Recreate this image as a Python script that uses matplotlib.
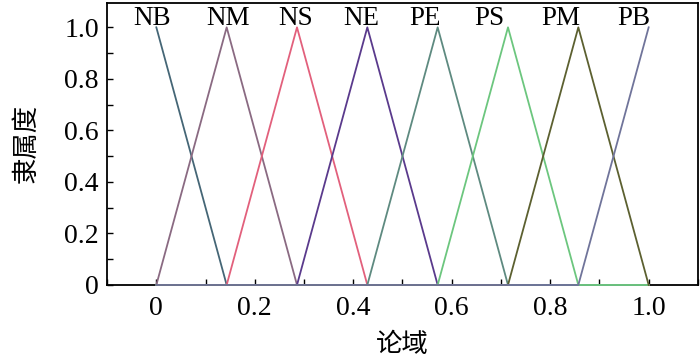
import numpy as np
import matplotlib
matplotlib.use("Agg")
import matplotlib.pyplot as plt
from matplotlib.ticker import MultipleLocator

# ---------- DADOS ----------------
labels = ["NB", "NM", "NS", "NE", "PE", "PS", "PM", "PB"]
peaks = [0, 1/7, 2/7, 3/7, 4/7, 5/7, 6/7, 1]
label_x = [-0.009, 0.146, 0.282, 0.416, 0.546, 0.676, 0.822, 0.970]
cores = ["#456676", "#8a6a82", "#e2607c", "#5a3a8c", "#5e8a80",
         "#6cc67e", "#5c6030", "#70749a"]

xs = np.array([0, 1/7, 2/7, 3/7, 4/7, 5/7, 6/7, 1])

plt.rcParams.update({"font.family": ["Liberation Serif", "DejaVu Serif"],
                     "font.size": 20,
                     "xtick.direction": "in", "ytick.direction": "in"})

fig = plt.figure(figsize=(7, 3.58), dpi=100)
ax = fig.add_axes([0.153, 0.204, 0.844, 0.788])

w = 1/7
for i, (lab, p, c) in enumerate(zip(labels, peaks, cores)):
    ys = np.clip(1 - np.abs(xs - p) / w, 0, 1)
    ax.plot(xs, ys, color=c, lw=1.3, zorder=3, clip_on=False)
    ax.text(label_x[i], 1.01, lab, ha="center", va="baseline", fontsize=19.5)

ax.set_xlim(-0.1, 1.1)
ax.set_ylim(0, 1.095)
ax.xaxis.set_minor_locator(MultipleLocator(0.1))
ax.yaxis.set_minor_locator(MultipleLocator(0.1))
ax.set_xticks([0, 0.2, 0.4, 0.6, 0.8, 1.0])
ax.set_xticklabels(["0", "0.2", "0.4", "0.6", "0.8", "1.0"])
ax.set_yticks([0, 0.2, 0.4, 0.6, 0.8, 1.0])
ax.set_yticklabels(["0", "0.2", "0.4", "0.6", "0.8", "1.0"])
ax.tick_params(which="both", length=4.5, width=1, top=False, right=False)
ax.tick_params(axis="x", pad=8)
ax.tick_params(axis="y", pad=6)
for s in ax.spines.values():
    s.set_linewidth(1.3)

ax.set_xlabel("论域", family=["Noto Sans CJK SC", "DejaVu Sans"], fontsize=19, labelpad=7)
ax.set_ylabel("隶属度", family=["Noto Sans CJK SC", "DejaVu Sans"], fontsize=19, labelpad=18)

fig.savefig("out.png", dpi=100)
